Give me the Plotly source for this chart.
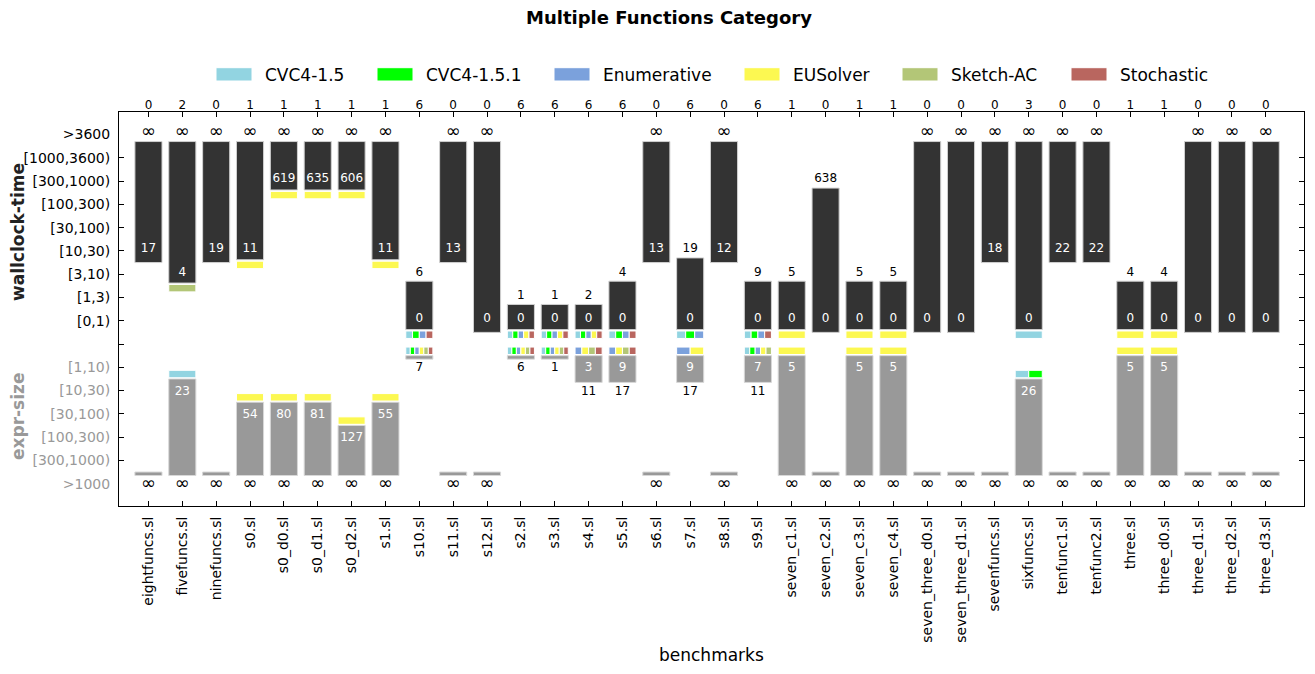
import plotly.graph_objects as go

INF = float("inf")

benchmarks = ["eightfuncs.sl", "fivefuncs.sl", "ninefuncs.sl", "s0.sl", "s0_d0.sl", "s0_d1.sl",
              "s0_d2.sl", "s1.sl", "s10.sl", "s11.sl", "s12.sl", "s2.sl", "s3.sl", "s4.sl", "s5.sl",
              "s6.sl", "s7.sl", "s8.sl", "s9.sl", "seven_c1.sl", "seven_c2.sl", "seven_c3.sl",
              "seven_c4.sl", "seven_three_d0.sl", "seven_three_d1.sl", "sevenfuncs.sl", "sixfuncs.sl",
              "tenfunc1.sl", "tenfunc2.sl", "three.sl", "three_d0.sl", "three_d1.sl", "three_d2.sl",
              "three_d3.sl"]

solvers = ["CVC4-1.5", "CVC4-1.5.1", "Enumerative", "EUSolver", "Sketch-AC", "Stochastic"]
solver_colors = ["#92D4E1", "#00FF00", "#7BA1DC", "#FCF851", "#B3C677", "#B9665F"]

solved_counts = [0, 2, 0, 1, 1, 1, 1, 1, 6, 0, 0, 6, 6, 6, 6, 0, 6, 0, 6, 1, 0, 1, 1, 0, 0, 0, 3,
                 0, 0, 1, 1, 0, 0, 0]

time_best = [17, 4, 19, 11, 619, 635, 606, 11, 0, 13, 0, 0, 0, 0, 0, 13, 0, 12, 0, 0, 0, 0, 0, 0,
             0, 18, 0, 22, 22, 0, 0, 0, 0, 0]
time_worst = [INF, INF, INF, INF, INF, INF, INF, INF, 6, INF, INF, 1, 1, 2, 4, INF, 19, INF, 9, 5,
              638, 5, 5, INF, INF, INF, INF, INF, INF, 4, 4, INF, INF, INF]

size_best = [INF, 23, INF, 54, 80, 81, 127, 55, 7, INF, INF, 6, 1, 3, 9, INF, 9, INF, 7, 5, INF, 5,
             5, INF, INF, INF, 26, INF, INF, 5, 5, INF, INF, INF]
size_worst = [INF, INF, INF, INF, INF, INF, INF, INF, 7, INF, INF, 6, 1, 11, 17, INF, 17, INF, 11,
              INF, INF, INF, INF, INF, INF, INF, INF, INF, INF, INF, INF, INF, INF, INF]

# indices into `solvers`
time_winners = [[], [4], [], [3], [3], [3], [3], [3], [0, 1, 2, 5], [], [], [0, 1, 2, 3, 5],
                [0, 1, 2, 3, 5], [0, 1, 2, 3, 5], [0, 1, 2, 5], [], [0, 1, 2], [], [0, 1, 2, 5],
                [3], [], [3], [3], [], [], [], [0], [], [], [3], [3], [], [], []]
size_winners = [[], [0], [], [3], [3], [3], [3], [3], [0, 1, 2, 3, 4, 5], [], [],
                [0, 1, 2, 3, 4, 5], [0, 1, 2, 3, 4, 5], [2, 3, 4, 5], [2, 3, 4, 5], [], [2, 3], [],
                [0, 1, 2, 3, 4], [3], [], [3], [3], [], [], [], [0, 1], [], [], [3], [3], [], [], []]

time_bins = ["[0,1)", "[1,3)", "[3,10)", "[10,30)", "[30,100)", "[100,300)", "[300,1000)",
             "[1000,3600)", ">3600"]
time_edges = [1, 3, 10, 30, 100, 300, 1000, 3600]
size_bins = ["[1,10)", "[10,30)", "[30,100)", "[100,300)", "[300,1000)", ">1000"]
size_edges = [10, 30, 100, 300, 1000]


# ---------------------------------------------------------------- scales
def time_level(v):
    for k, e in enumerate(time_edges):
        if v < e:
            return k + 1
    return len(time_bins)


def size_level(v):
    for k, e in enumerate(size_edges):
        if v < e:
            return -(k + 1)
    return -len(size_bins)


def lab(v):
    return "\u221e" if v == INF else str(v)


def lsize(v):
    return 18 if v == INF else 12


BAR_W = 0.8
FONT = "DejaVu Sans"
n = len(benchmarks)
xs = list(range(n))

fig = go.Figure()

# wallclock bars (hanging from the top)
tb, th = [], []
for i in xs:
    top = time_level(time_worst[i]) - 0.3
    lvl = time_level(time_best[i])
    bot = lvl - (0.38 if time_winners[i] else 0.5)
    tb.append(bot)
    th.append(top - bot)
fig.add_trace(go.Bar(x=xs, y=th, base=tb, width=BAR_W, marker=dict(color="#333333",
              line=dict(color="#d0d0d0", width=1)), hoverinfo="skip", showlegend=False))

# expr-size bars (standing on the bottom)
sb, sh = [], []
for i in xs:
    top = size_level(size_best[i]) + 0.5
    bot = size_level(size_worst[i]) + 0.35
    sb.append(bot)
    sh.append(top - bot)
fig.add_trace(go.Bar(x=xs, y=sh, base=sb, width=BAR_W, marker=dict(color="#999999",
              line=dict(color="#d8d8d8", width=1)), hoverinfo="skip", showlegend=False))

# winner markers
mk = {s: dict(x=[], base=[], w=[]) for s in range(len(solvers))}
for i in xs:
    rows = []
    if time_winners[i]:
        rows.append((time_winners[i], time_level(time_best[i]) - 0.76))
    if size_winners[i]:
        rows.append((size_winners[i], size_level(size_best[i]) + 0.55))
    for win, base in rows:
        k = len(win)
        w = BAR_W / k
        for j, s in enumerate(win):
            mk[s]["x"].append(i - BAR_W / 2 + (j + 0.5) * w)
            mk[s]["base"].append(base)
            mk[s]["w"].append(w)
for s in range(len(solvers)):
    d = mk[s]
    fig.add_trace(go.Bar(x=d["x"], y=[0.32] * len(d["x"]), base=d["base"], width=d["w"],
                         marker=dict(color=solver_colors[s], line=dict(color="white", width=1)),
                         name=solvers[s], hoverinfo="skip", showlegend=False))

# labels
fig.add_trace(go.Scatter(x=xs, y=[time_level(v) + 0.07 for v in time_best],
                         text=[lab(v) for v in time_best], mode="text",
                         textfont=dict(family=FONT, size=12, color="white"),
                         hoverinfo="skip", showlegend=False))
fig.add_trace(go.Scatter(x=xs, y=[time_level(v) + 0.07 for v in time_worst],
                         text=[lab(v) for v in time_worst], mode="text",
                         textfont=dict(family=FONT, size=[lsize(v) for v in time_worst],
                                       color="black"),
                         hoverinfo="skip", showlegend=False, xaxis="x2", yaxis="y2"))
ix = [i for i in xs if size_best[i] != size_worst[i]]
fig.add_trace(go.Scatter(x=ix, y=[size_level(size_best[i]) - 0.05 for i in ix],
                         text=[lab(size_best[i]) for i in ix], mode="text",
                         textfont=dict(family=FONT, size=12, color="white"),
                         hoverinfo="skip", showlegend=False))
fig.add_trace(go.Scatter(x=xs, y=[size_level(v) - 0.05 for v in size_worst],
                         text=[lab(v) for v in size_worst], mode="text",
                         textfont=dict(family=FONT, size=[lsize(v) for v in size_worst],
                                       color="black"),
                         hoverinfo="skip", showlegend=False))

# ---------------------------------------------------------------- layout
# the page body has an 8px margin, so the figure is drawn 8px in from the window edge
PAGE_OFF = 8
FIG_W, FIG_H = 1315 - 2 * PAGE_OFF, 674 - 2 * PAGE_OFF
PLOT_L, PLOT_R, PLOT_T, PLOT_B = 119, 1304, 112, 506   # plot-area edges in window pixels

XR = [-0.87, n + 0.13]
YR = [-6.96, 9.97]
ytv = [-(k + 1) for k in range(len(size_bins))] + [0] + [k + 1 for k in range(len(time_bins))]
ytt = ['<span style="color:#999999">%s</span>' % b for b in size_bins] + [""] + time_bins

fig.update_layout(
    width=FIG_W, height=FIG_H,
    margin=dict(l=PLOT_L - PAGE_OFF, r=FIG_W - (PLOT_R - PAGE_OFF), t=PLOT_T - PAGE_OFF,
                b=FIG_H - (PLOT_B - PAGE_OFF), autoexpand=False),
    paper_bgcolor="white", plot_bgcolor="white",
    barmode="overlay", showlegend=False,
    font=dict(family=FONT, color="black"),
    title=dict(text="<b>Multiple Functions Category</b>", x=(669 - PAGE_OFF) / FIG_W,
               xref="container", y=1 - (18 - PAGE_OFF) / FIG_H, yref="container",
               xanchor="center", yanchor="middle",
               font=dict(family=FONT, size=18, color="black")),
    xaxis=dict(range=XR, tickvals=xs, ticktext=benchmarks, tickangle=-90, ticks="inside",
               ticklen=5, tickcolor="black", mirror="ticks", showline=True, linecolor="black",
               linewidth=1, showgrid=False, zeroline=False, tickfont=dict(size=14),
               ticklabelstandoff=4, automargin=False),
    xaxis2=dict(range=XR, overlaying="x", side="top", anchor="y2", tickvals=xs,
                ticktext=[str(c) for c in solved_counts], ticks="", showline=False,
                showgrid=False, zeroline=False, tickfont=dict(size=12), automargin=False),
    yaxis=dict(range=YR, tickvals=ytv, ticktext=ytt, ticks="", showline=True, mirror=True,
               linecolor="black", linewidth=1, showgrid=False, zeroline=False,
               tickfont=dict(size=14), ticklabelstandoff=5, automargin=False),
    yaxis2=dict(range=YR, overlaying="y", anchor="x2", side="left",
                tickvals=list(range(-len(size_bins) + 1, len(time_bins))), ticks="inside",
                ticklen=5, tickcolor="black", mirror="ticks", showticklabels=False,
                showline=False, showgrid=False, zeroline=False, automargin=False),
)


def px_x(p):
    return (p - PLOT_L) / float(PLOT_R - PLOT_L)


def px_y(p):
    return (PLOT_B - p) / float(PLOT_B - PLOT_T)


ann = []
ann.append(dict(text="<b>wallclock-time</b>", x=px_x(18), y=px_y(232), xref="paper", yref="paper",
                xanchor="center", yanchor="middle",
                textangle=-90, showarrow=False, font=dict(size=17, color="#222222")))
ann.append(dict(text="<b>expr-size</b>", x=px_x(18), y=px_y(417), xref="paper", yref="paper",
                xanchor="center", yanchor="middle",
                textangle=-90, showarrow=False, font=dict(size=17, color="#999999")))
ann.append(dict(text="benchmarks", x=0.5, y=px_y(655), xref="paper", yref="paper",
                xanchor="center", yanchor="middle",
                showarrow=False, font=dict(size=17, color="black")))

legend_left = [216, 377, 554, 744, 902, 1071]
shapes = []
for s, name in enumerate(solvers):
    L = legend_left[s]
    shapes.append(dict(type="rect", xref="paper", yref="paper", x0=px_x(L), x1=px_x(L + 36),
                       y0=px_y(81), y1=px_y(67.7), fillcolor=solver_colors[s],
                       line=dict(color="white", width=1)))
    ann.append(dict(text=name, x=px_x(L + 47), y=px_y(74.5), xref="paper", yref="paper",
                    xanchor="left", yanchor="middle", showarrow=False,
                    font=dict(size=17, color="black")))

fig.update_layout(annotations=ann, shapes=shapes)
fig.write_html("out.html")
